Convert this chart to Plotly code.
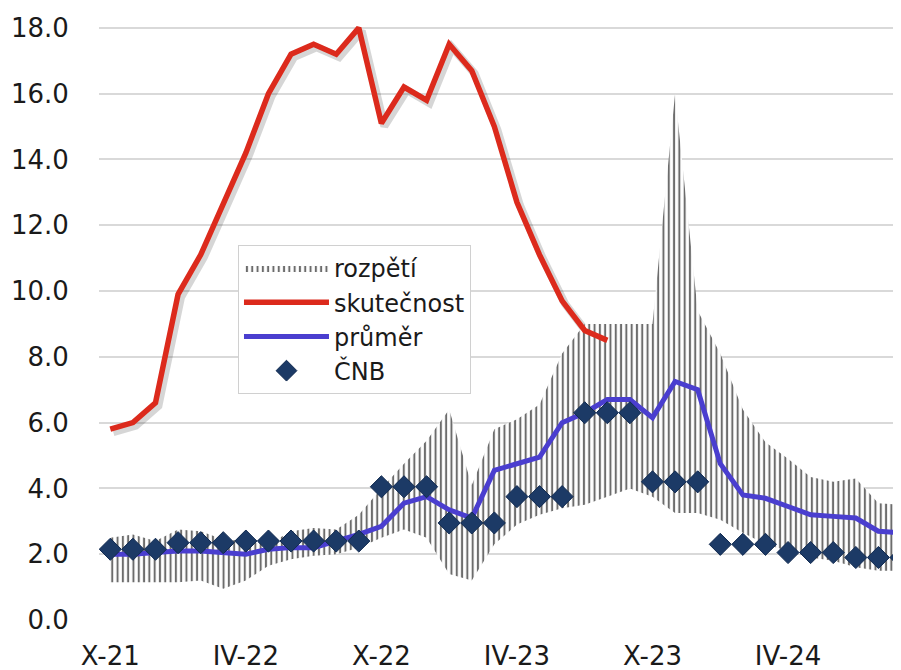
import plotly.graph_objects as go

# monthly categories Oct 2021 - Sep 2024
months = ["X-21", "XI-21", "XII-21",
          "I-22", "II-22", "III-22", "IV-22", "V-22", "VI-22", "VII-22", "VIII-22", "IX-22", "X-22", "XI-22", "XII-22",
          "I-23", "II-23", "III-23", "IV-23", "V-23", "VI-23", "VII-23", "VIII-23", "IX-23", "X-23", "XI-23", "XII-23",
          "I-24", "II-24", "III-24", "IV-24", "V-24", "VI-24", "VII-24", "VIII-24", "IX-24"]

tick_labels = ["X-21", "IV-22", "X-22", "IV-23", "X-23", "IV-24"]
y_ticks = [0, 2, 4, 6, 8, 10, 12, 14, 16, 18]

skutecnost = [5.8, 6.0, 6.6, 9.9, 11.1, 12.7, 14.2, 16.0, 17.2, 17.5, 17.2, 18.0,
              15.1, 16.2, 15.8, 17.5, 16.7, 15.0, 12.7, 11.1, 9.7, 8.8, 8.5]

prumer = [2.0, 2.0, 2.05, 2.1, 2.1, 2.05, 2.0, 2.15, 2.2, 2.2, 2.4, 2.6,
          2.85, 3.55, 3.75, 3.35, 3.1, 4.55, 4.75, 4.95, 6.0, 6.3, 6.7, 6.7,
          6.15, 7.25, 7.0, 4.75, 3.8, 3.7, 3.45, 3.2, 3.15, 3.1, 2.7, 2.65]

cnb = [2.15, 2.15, 2.15, 2.35, 2.35, 2.35, 2.4, 2.4, 2.4, 2.4, 2.4, 2.4,
       4.05, 4.05, 4.05, 2.95, 2.95, 2.95, 3.75, 3.75, 3.75, 6.3, 6.3, 6.3,
       4.2, 4.2, 4.2, 2.3, 2.3, 2.3, 2.05, 2.05, 2.05, 1.9, 1.9, 1.9]

rozpeti_min = [1.15, 1.15, 1.15, 1.15, 1.2, 0.95, 1.2, 1.65, 1.85, 1.95, 2.0, 2.2,
               2.5, 2.75, 2.5, 1.4, 1.2, 2.3, 2.9, 3.2, 3.4, 3.5, 3.75, 4.0,
               3.75, 3.25, 3.25, 3.05, 2.65, 2.3, 2.1, 1.9, 1.8, 1.6, 1.5, 1.5]

rozpeti_max = [2.5, 2.6, 2.4, 2.75, 2.7, 2.45, 2.4, 2.3, 2.7, 2.8, 2.75, 3.2,
               4.0, 4.75, 5.45, 6.4, 4.1, 5.8, 6.1, 6.55, 8.1, 9.0, 9.0, 9.0,
               9.0, 16.0, 9.4, 8.1, 6.4, 5.4, 4.9, 4.35, 4.2, 4.3, 3.55, 3.5]

FONT = "DejaVu Sans"
TXT = "#1a1a1a"
X_RANGE = [-0.5, 35]
Y_RANGE = [0, 18.3]
# drop-shadow offset (in axis units: ~3 px right, ~3 px down)
SH_DX = 0.13
SH_DY = 0.09

fig = go.Figure()

# shadows on the base axes (range shifted so they appear offset)
fig.add_trace(go.Scatter(
    x=months[:len(skutecnost)], y=skutecnost, mode="lines", showlegend=False,
    hoverinfo="skip", xaxis="x", yaxis="y",
    line=dict(color="rgba(0,0,0,0.16)", width=8)))
fig.add_trace(go.Scatter(
    x=months, y=prumer, mode="lines", showlegend=False,
    hoverinfo="skip", xaxis="x", yaxis="y",
    line=dict(color="rgba(0,0,0,0.14)", width=7)))

# main marks on the overlay axes
fig.add_trace(go.Scatter(
    x=months, y=rozpeti_min, mode="lines", xaxis="x2", yaxis="y2",
    line=dict(width=0, color="rgba(0,0,0,0)"),
    showlegend=False, hoverinfo="skip"))

fig.add_trace(go.Scatter(
    x=months, y=rozpeti_max, mode="lines", name="rozpětí", xaxis="x2", yaxis="y2",
    line=dict(width=0, color="rgba(0,0,0,0)"),
    fill="tonexty", fillcolor="white",
    fillpattern=dict(shape="|", size=5.3, solidity=0.38,
                     fgcolor="#6c6c6c", bgcolor="white", fillmode="replace")))

fig.add_trace(go.Scatter(
    x=months[:len(skutecnost)], y=skutecnost, mode="lines", name="skutečnost",
    xaxis="x2", yaxis="y2",
    line=dict(color="#DC2A1C", width=5.5)))

fig.add_trace(go.Scatter(
    x=months, y=prumer, mode="lines", name="průměr", xaxis="x2", yaxis="y2",
    line=dict(color="#4A3ECF", width=5)))

fig.add_trace(go.Scatter(
    x=months, y=cnb, mode="markers", name="ČNB", xaxis="x2", yaxis="y2",
    marker=dict(symbol="diamond", size=17, color="#1C3A66",
                line=dict(color="#10294F", width=1))))

fig.update_layout(
    width=893, height=662,
    margin=dict(l=91, r=0, t=10, b=50, autoexpand=False),
    paper_bgcolor="white", plot_bgcolor="white",
    font=dict(family=FONT, size=26, color=TXT),
    legend=dict(x=0.1733, y=0.623, xanchor="left", yanchor="top",
                traceorder="normal",
                bgcolor="white", bordercolor="#d0d0d0", borderwidth=1,
                font=dict(family=FONT, size=24, color=TXT),
                itemwidth=85, tracegroupgap=0),
    xaxis=dict(type="category", categoryorder="array", categoryarray=months,
               range=[X_RANGE[0] - SH_DX, X_RANGE[1] - SH_DX], automargin=False,
               showticklabels=False, showgrid=False, zeroline=False,
               showline=False, ticks=""),
    yaxis=dict(range=[Y_RANGE[0] + SH_DY, Y_RANGE[1] + SH_DY], automargin=False,
               showticklabels=False, showgrid=False, zeroline=False,
               showline=False, ticks=""),
    xaxis2=dict(type="category", categoryorder="array", categoryarray=months,
                overlaying="x", range=X_RANGE, automargin=False,
                tickmode="array", tickvals=tick_labels, ticktext=tick_labels,
                showgrid=False, zeroline=False, showline=False, side="bottom",
                ticks="outside", ticklen=13, tickcolor="rgba(0,0,0,0)",
                tickfont=dict(family=FONT, size=26, color=TXT)),
    yaxis2=dict(overlaying="y", range=Y_RANGE, tickmode="array", automargin=False,
                tickvals=y_ticks, tickformat=".1f", side="left",
                showgrid=True, gridcolor="#d9d9d9", gridwidth=1.5,
                zeroline=False, showline=False,
                ticks="outside", ticklen=24, tickcolor="rgba(0,0,0,0)",
                tickfont=dict(family=FONT, size=26, color=TXT)),
)

fig.write_html("out.html")
